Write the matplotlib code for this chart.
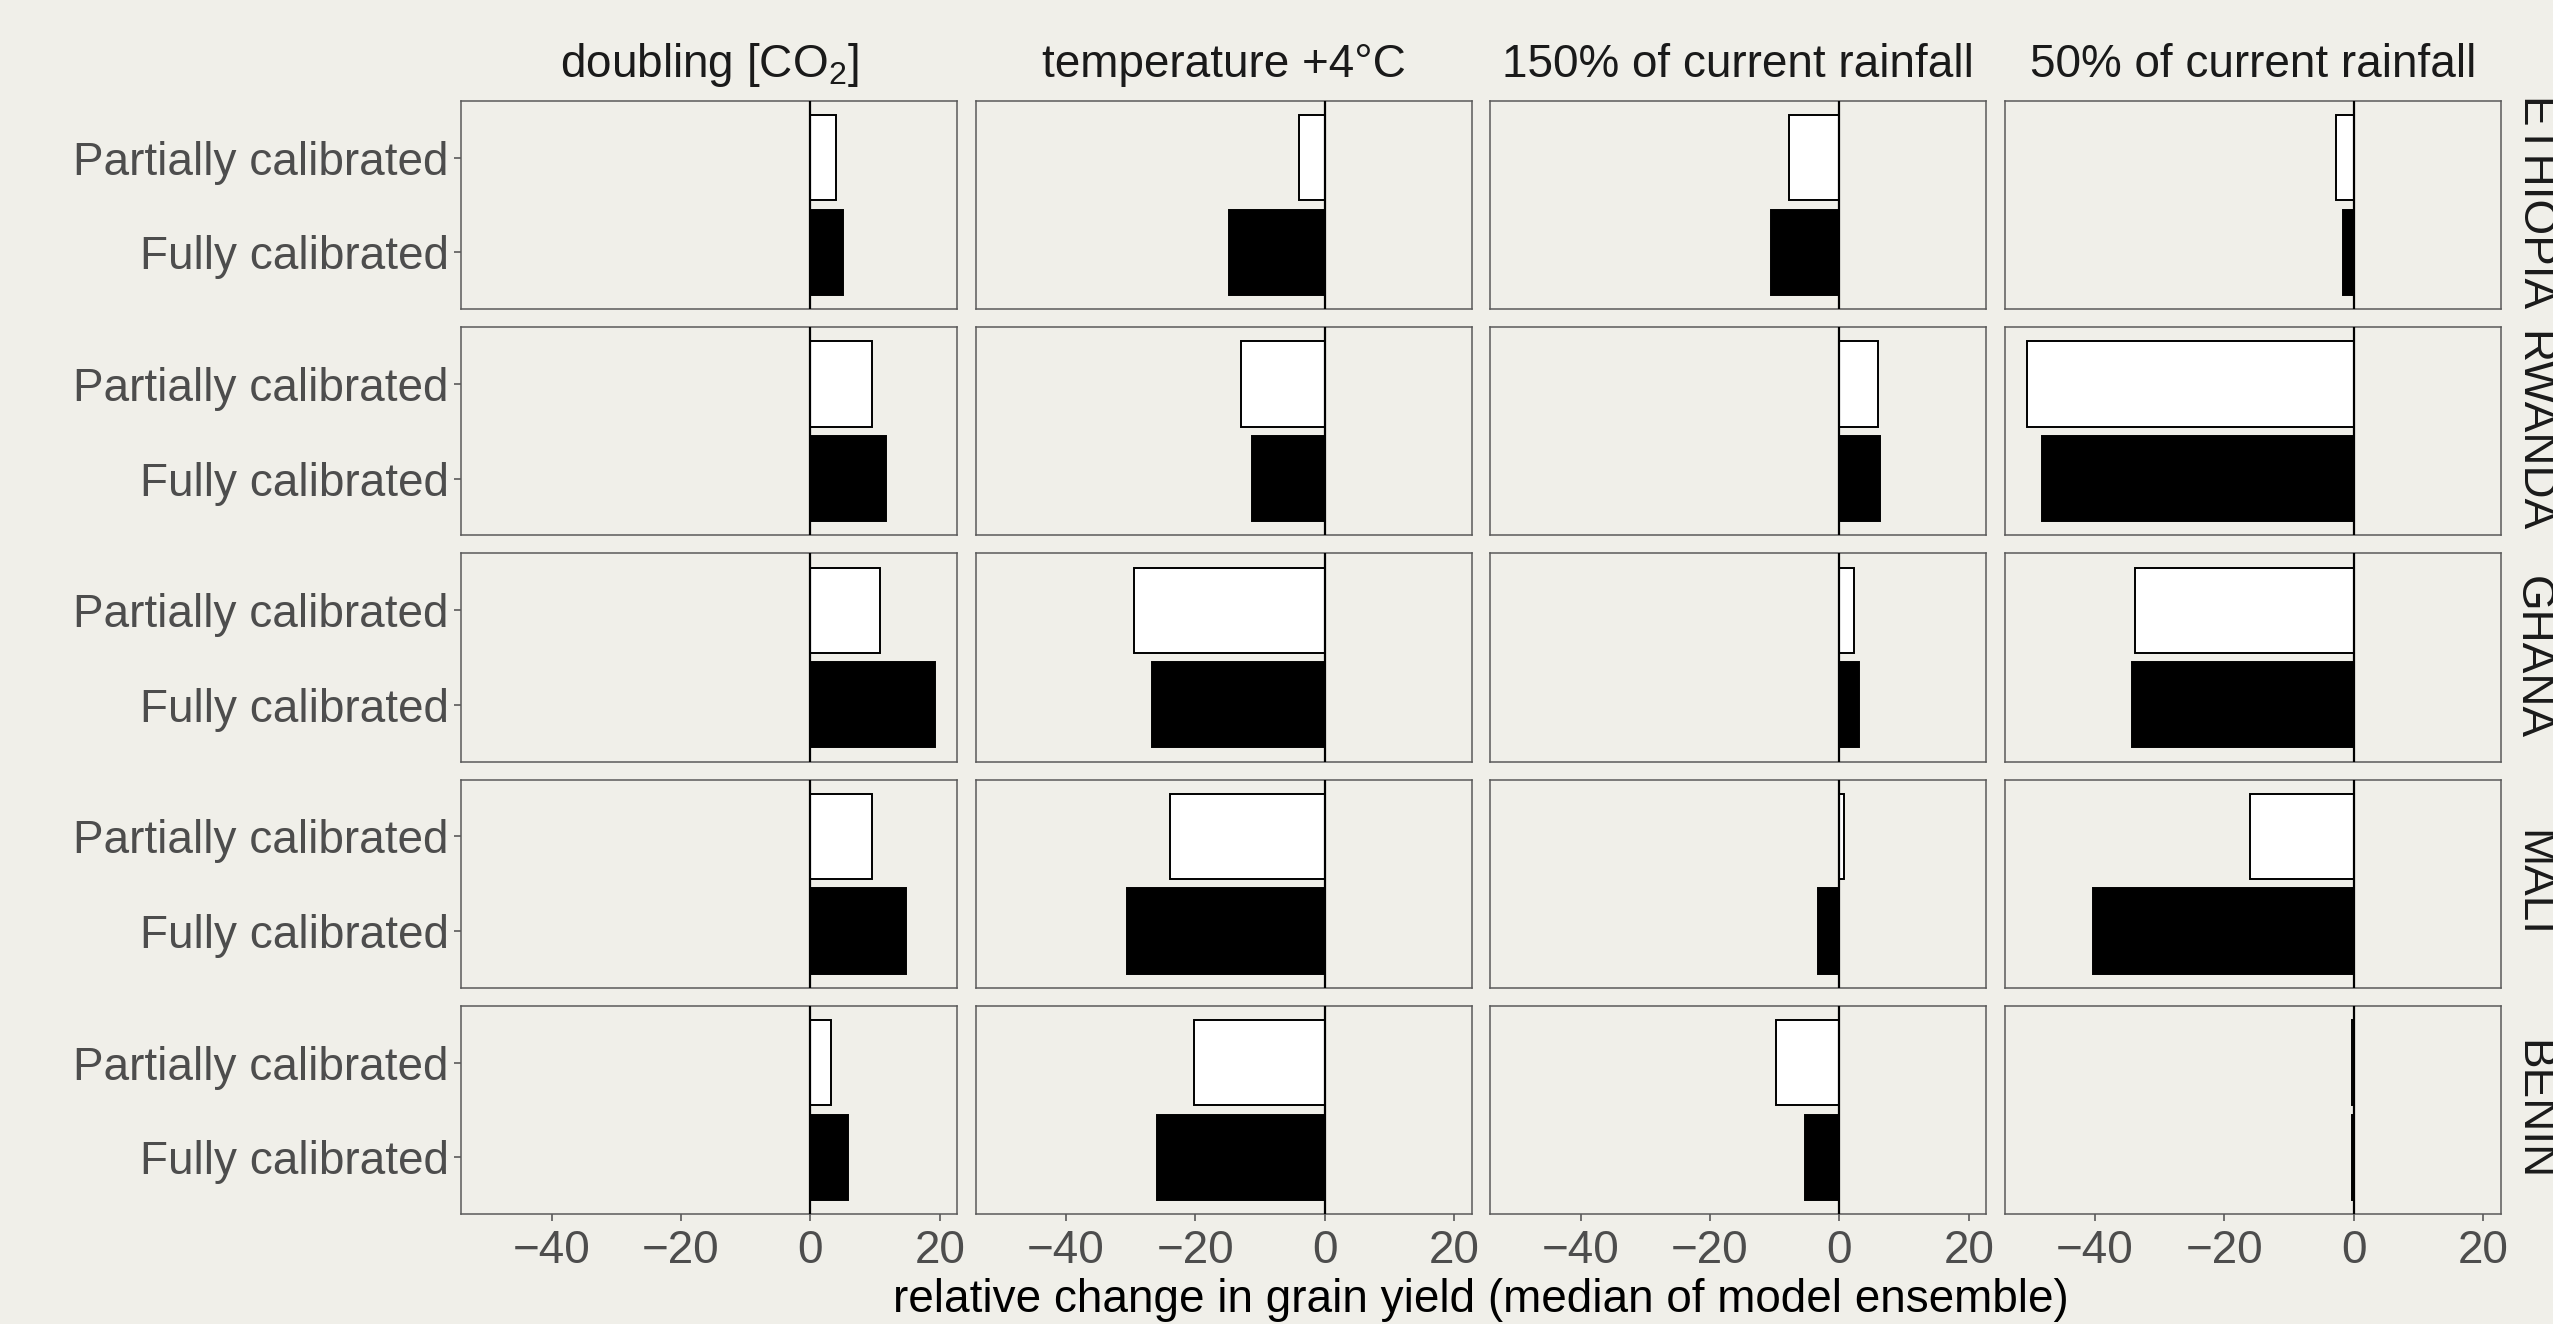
import matplotlib.pyplot as plt
import numpy as np

plt.rcParams['font.family'] = ['Liberation Sans', 'DejaVu Sans']
plt.rcParams['mathtext.default'] = 'regular'
plt.rcParams['axes.unicode_minus'] = True

# facet rows / columns
countries = ["ETHIOPIA", "RWANDA", "GHANA", "MALI", "BENIN"]
scenarios = ["doubling [CO$_2$]", "temperature +4°C",
             "150% of current rainfall", "50% of current rainfall"]
calibrations = ["Fully calibrated", "Partially calibrated"]

# relative change (%) per country, one value per scenario
partially_calibrated = [
    [4.0, -4.0, -7.75, -2.75],
    [9.5, -13.0, 6.0, -50.5],
    [10.75, -29.5, 2.25, -33.75],
    [9.5, -24.0, 0.75, -16.0],
    [3.25, -20.25, -9.75, -0.3],
]
fully_calibrated = [
    [5.0, -14.75, -10.5, -1.75],
    [11.75, -11.25, 6.25, -48.25],
    [19.25, -26.75, 3.0, -34.25],
    [14.75, -30.5, -3.25, -40.25],
    [5.75, -26.0, -5.25, -0.3],
]
xticks = [-40, -20, 0, 20]

bg = '#F0EFE9'
W, H = 2553, 1324
fig, axes = plt.subplots(len(countries), len(scenarios), figsize=(W / 100, H / 100), dpi=100,
                         sharex=True, sharey=True, facecolor=bg)
fig.subplots_adjust(left=461 / W, right=2501 / W, top=1 - 101 / H, bottom=1 - 1214 / H,
                    wspace=0.0363, hspace=0.0865)

allvals = np.array(partially_calibrated + fully_calibrated)
lo, hi = min(allvals.min(), 0), max(allvals.max(), 0)
pad = 0.05 * (hi - lo)

fs = 33
nrow, ncol = len(countries), len(scenarios)
for i, country in enumerate(countries):
    for j, scen in enumerate(scenarios):
        ax = axes[i, j]
        ax.set_facecolor(bg)
        ax.barh(0, fully_calibrated[i][j], height=0.9, color='black', edgecolor='black', linewidth=1.4)
        ax.barh(1, partially_calibrated[i][j], height=0.9, color='white', edgecolor='black', linewidth=1.4)
        ax.axvline(0, color='black', lw=1.6, zorder=3)
        ax.set_xlim(lo - pad, hi + pad)
        ax.set_ylim(-0.6, 1.6)
        ax.set_yticks([0, 1])
        ax.set_yticklabels(calibrations)
        ax.set_xticks(xticks)
        for s in ax.spines.values():
            s.set_color('#5a5a5a')
            s.set_linewidth(1.1)
        ax.tick_params(axis='both', colors='#4D4D4D', labelsize=fs, length=5, width=1.1,
                       labelcolor='#4D4D4D')
        ax.tick_params(axis='x', pad=6, length=5 if i == nrow - 1 else 0)
        ax.tick_params(axis='y', pad=4, length=5 if j == 0 else 0)
        if i == 0:
            ax.text(0.5, 1.115, scen, transform=ax.transAxes, ha='center', va='baseline',
                    fontsize=fs, color='#1A1A1A')
        if j == ncol - 1:
            ax.text(1.018, 0.5, country, transform=ax.transAxes, ha='left', va='center',
                    rotation=-90, fontsize=fs, color='#1A1A1A')

fig.text(0.58, 1 - 1300 / H, "relative change in grain yield (median of model ensemble)",
         ha='center', va='center', fontsize=fs, color='black')

fig.savefig('out.png', dpi=100, facecolor=bg)
